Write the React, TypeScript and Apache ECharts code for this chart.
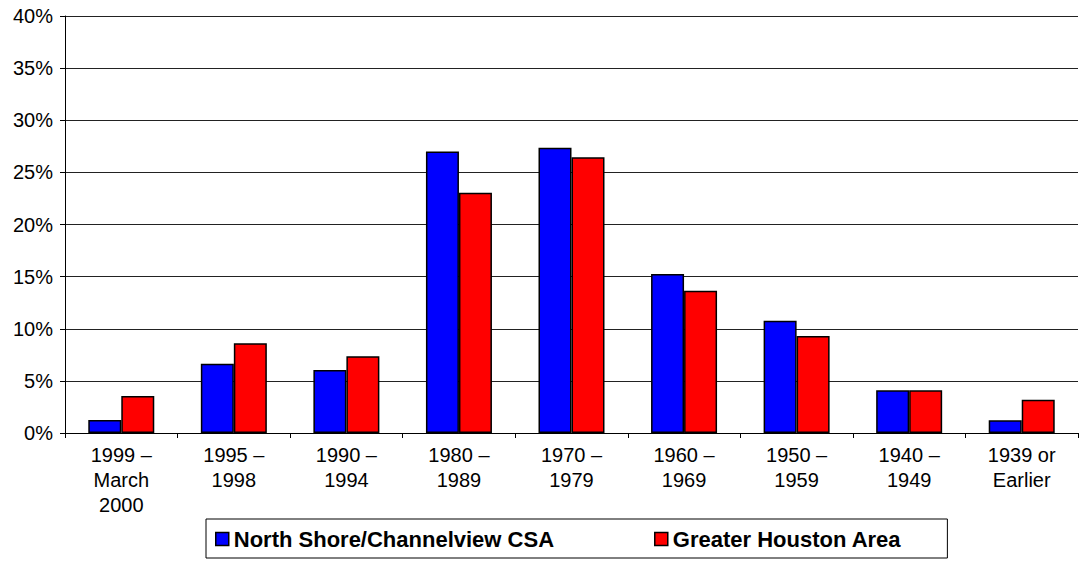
import React, { useEffect, useRef } from "react";
import * as echarts from "echarts";

const categories = [
  "1999 –\nMarch\n2000",
  "1995 –\n1998",
  "1990 –\n1994",
  "1980 –\n1989",
  "1970 –\n1979",
  "1960 –\n1969",
  "1950 –\n1959",
  "1940 –\n1949",
  "1939 or\nEarlier",
];
const northShore = [1.25, 6.65, 6.04, 27.0, 27.37, 15.25, 10.77, 4.1, 1.22];
const greaterHouston = [3.55, 8.6, 7.36, 23.05, 26.45, 13.65, 9.3, 4.1, 3.2];
const seriesNames = ["North Shore/Channelview CSA", "Greater Houston Area"];

export default function App() {
  const ref = useRef<HTMLDivElement>(null);
  useEffect(() => {
    if (!ref.current) return;
    const chart = echarts.init(ref.current, null, { renderer: "svg" });
    const font = "'Liberation Sans', Arial, sans-serif";
    chart.setOption({
      animation: false,
      textStyle: { fontFamily: font },
      grid: { left: 65, right: 2, top: 16, bottom: 130, containLabel: false },
      legend: {
        left: 206,
        top: 519,
        orient: "horizontal",
        itemGap: 100,
        itemWidth: 13,
        itemHeight: 13,
        icon: "rect",
        borderColor: "#000",
        borderWidth: 1,
        padding: [9, 46, 8, 9],
        textStyle: { fontFamily: font, fontSize: 22, fontWeight: "bold", color: "#000" },
        data: seriesNames.map((n) => ({ name: n, itemStyle: { borderColor: "#000", borderWidth: 1.5 } })),
      },
      xAxis: {
        type: "category",
        data: categories,
        axisLine: { lineStyle: { color: "#000", width: 1 } },
        axisTick: { show: true, length: 5, lineStyle: { color: "#000" } },
        axisLabel: { color: "#000", fontSize: 20, lineHeight: 25, margin: 9, interval: 0, fontFamily: font },
      },
      yAxis: {
        type: "value",
        min: 0,
        max: 40,
        interval: 5,
        axisLine: { show: true, lineStyle: { color: "#000", width: 1 } },
        axisTick: { show: true, length: 5, lineStyle: { color: "#000" } },
        axisLabel: { color: "#000", fontSize: 20, margin: 12, formatter: "{value}%", fontFamily: font },
        splitLine: { show: true, lineStyle: { color: "#222", width: 1 } },
      },
      series: [
        {
          name: seriesNames[0],
          type: "bar",
          data: northShore,
          barWidth: 33,
          barGap: "0%",
          itemStyle: { color: "#0000FF", borderColor: "#000", borderWidth: 1.5 },
        },
        {
          name: seriesNames[1],
          type: "bar",
          data: greaterHouston,
          barWidth: 33,
          barGap: "0%",
          itemStyle: { color: "#FF0000", borderColor: "#000", borderWidth: 1.5 },
        },
      ],
    });
    return () => chart.dispose();
  }, []);
  return <div ref={ref} style={{ width: 1080, height: 563, position: "absolute", left: 0, top: 0 }} />;
}
